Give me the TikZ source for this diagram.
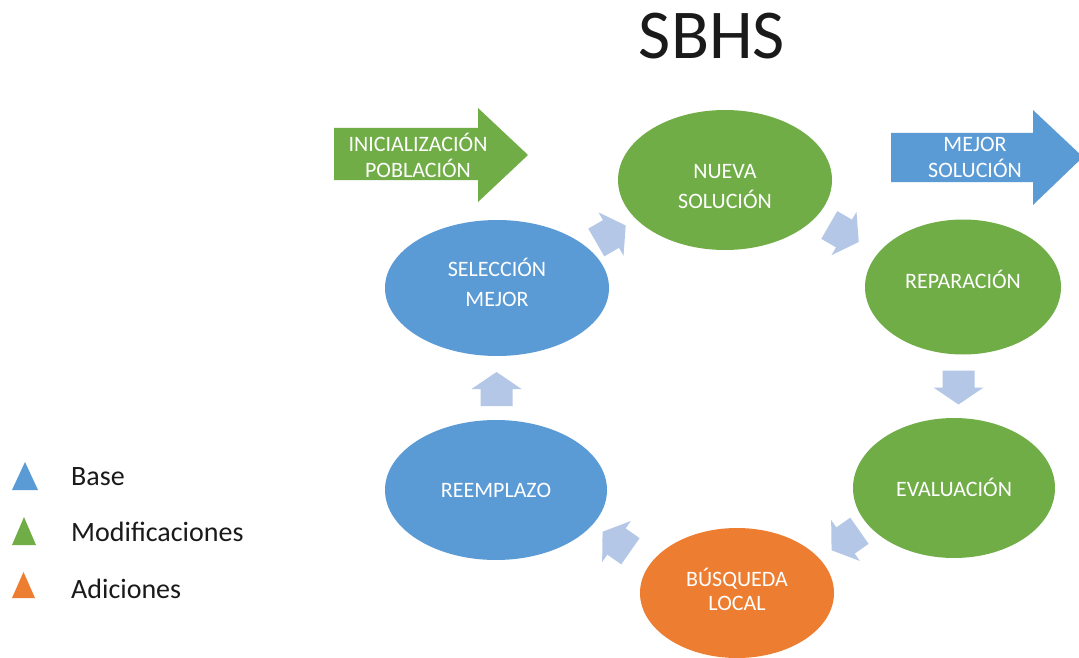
\documentclass[tikz,border=0pt]{standalone}
\usepackage{fontspec}
\setmainfont{Carlito}
\usetikzlibrary{shapes.geometric,calc}
\definecolor{verde}{HTML}{70AD47}
\definecolor{azul}{HTML}{5B9BD5}
\definecolor{naranja}{HTML}{ED7D31}
\definecolor{celeste}{HTML}{B4C7E7}
\definecolor{tinta}{HTML}{1A1A1A}

\begin{document}
\begin{tikzpicture}[x=1pt,y=-1pt]

\tikzset{paso/.style = {shape=ellipse,inner sep=0pt}}
\tikzset{flechita/.pic = {\fill[celeste] (-17,-16) -- (0,-16) -- (0,-25) -- (17,0) -- (0,25) -- (0,16) -- (-17,16) -- cycle;}}
\tikzset{texto/.style = {text=white,align=center,font=\fontsize{22}{26}\selectfont}}
\tikzset{leyenda/.style = {anchor=base west,inner sep=0pt,text=tinta,font=\fontsize{28}{30}\selectfont}}

\fill[white] (0,0) rectangle (1079,658);
\clip (0,0) rectangle (1079,658);

% titulo
\node[text=tinta,font=\fontsize{70}{74}\selectfont] (titulo) at (712,36) {SBHS};

% pasos del ciclo
\node[paso,fill=verde,minimum width=214pt,minimum height=140pt,
  label={[texto,font=\fontsize{22}{30}\selectfont,yshift=-7pt]center:{NUEVA\\SOLUCIÓN}}] (nueva) at (725,180) {};
\node[paso,fill=verde,minimum width=196pt,minimum height=135pt,
  label={[texto,yshift=8pt]center:REPARACIÓN}] (rep) at (963,287) {};
\node[paso,fill=verde,minimum width=202pt,minimum height=140pt,
  label={[texto,yshift=1pt]center:EVALUACIÓN}] (eval) at (954,488) {};
\node[paso,fill=naranja,minimum width=194pt,minimum height=130pt,
  label={[texto,font=\fontsize{22}{24}\selectfont,yshift=4pt]center:{BÚSQUEDA\\LOCAL}}] (busq) at (737,593) {};
\node[paso,fill=azul,minimum width=222pt,minimum height=140pt,
  label={[texto]center:REEMPLAZO}] (reem) at (496,490) {};
\node[paso,fill=azul,minimum width=224pt,minimum height=136pt,
  label={[texto,font=\fontsize{22}{30}\selectfont,yshift=6pt]center:{SELECCIÓN\\MEJOR}}] (sel) at (497,288) {};

% flechas del ciclo
\pic[rotate=30] (f1) at ($(sel)!0.5!(nueva)$) {flechita};
\pic[rotate=-30] (f2) at ($(nueva)!0.5!(rep)$) {flechita};
\pic[rotate=-90] (f3) at ($(rep)!0.5!(eval)$) {flechita};
\pic[rotate=-145] (f4) at ($(eval)!0.5!(busq)$) {flechita};
\pic[rotate=145] (f5) at ($(busq)!0.5!(reem)$) {flechita};
\pic[rotate=90] (f6) at ($(reem)!0.5!(sel)$) {flechita};

% entrada y salida
\fill[verde] (334,128) -- (478,128) -- (478,108) -- (528,155) -- (478,202) -- (478,180) -- (334,180) -- cycle;
\node[texto] (ini) at (418,155) {INICIALIZACIÓN\\POBLACIÓN};
\fill[azul] (891,133) -- (1033,133) -- (1033,110) -- (1083,157) -- (1033,205) -- (1033,182) -- (891,182) -- cycle;
\node[texto] (mejor) at (975,157) {MEJOR\\SOLUCIÓN};

% leyenda
\fill[azul] (12,490) -- (25,462) -- (38,490) -- cycle;
\fill[verde] (12,545) -- (24,517) -- (36,545) -- cycle;
\fill[naranja] (12,598) -- (23.5,572) -- (35,598) -- cycle;
\node[leyenda] (base) at (71,485) {Base};
\node[leyenda] (modif) at (71,541) {Modificaciones};
\node[leyenda] (adic) at (71,598) {Adiciones};

\end{tikzpicture}
\end{document}
